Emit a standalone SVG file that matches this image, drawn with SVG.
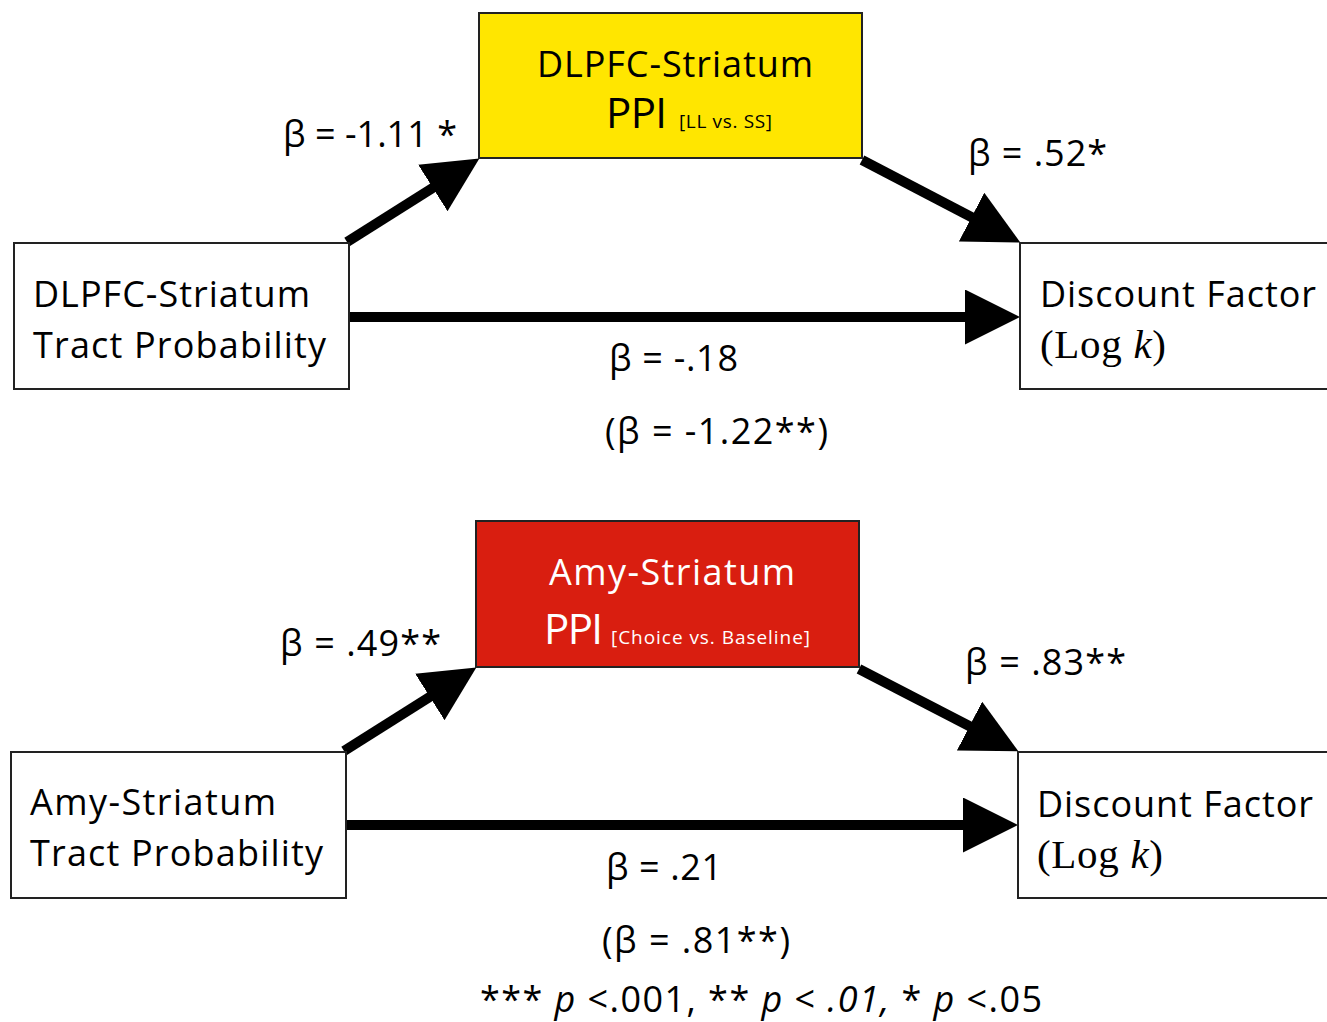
<svg xmlns="http://www.w3.org/2000/svg" width="1327" height="1022" viewBox="0 0 1327 1022">
<style>
.box{fill:#fff;stroke:#222;stroke-width:2}
.t{font-family:"Open Sans","Liberation Sans",sans-serif;font-size:36px;fill:#000}
.w{fill:#fff}
.big{font-size:42px}
.small{font-size:19px}
.serif{font-family:"Liberation Serif","DejaVu Serif",serif;font-size:41px;fill:#000}
.edge{stroke:#000;stroke-width:10;fill:none;marker-end:url(#ah)}
</style>
<defs>
<marker id="ah" markerUnits="userSpaceOnUse" markerWidth="56" markerHeight="56" refX="10" refY="27.5" orient="auto" viewBox="0 0 56 56">
<path d="M0,0 L55,27.5 L0,55 z" fill="#000"/>
</marker>
</defs>
<rect width="1327" height="1022" fill="#fff"/>
<g id="connectors">
<line class="edge" x1="347" y1="242" x2="441.3" y2="182.6"/>
<line class="edge" x1="862" y1="160" x2="980.4" y2="221.7"/>
<line class="edge" x1="349" y1="317" x2="975" y2="317"/>
<line class="edge" x1="344" y1="751" x2="438.3" y2="691.6"/>
<line class="edge" x1="859" y1="669" x2="978.4" y2="730.7"/>
<line class="edge" x1="346" y1="825" x2="973" y2="825"/>
</g>
<g id="top-mediator">
<rect x="479" y="13" width="383" height="145" fill="#FFE600" stroke="#222" stroke-width="2"/>
<text class="t" x="537" y="77" textLength="276">DLPFC-Striatum</text>
<text class="t big" x="606" y="128" textLength="61">PPI</text>
<text class="t small" x="679" y="128" textLength="93">[LL vs. SS]</text>
</g>
<g id="top-left">
<rect class="box" x="14" y="243" width="335" height="146"/>
<text class="t" x="33" y="307" textLength="277">DLPFC-Striatum</text>
<text class="t" x="33" y="358" textLength="293">Tract Probability</text>
</g>
<g id="top-right">
<rect class="box" x="1020" y="243" width="320" height="146"/>
<text class="t" x="1040" y="307" textLength="276">Discount Factor</text>
<text class="serif" x="1040" y="358" textLength="126">(Log <tspan font-style="italic">k</tspan>)</text>
</g>
<g id="bottom-mediator">
<rect x="476" y="521" width="383" height="146" fill="#D91E10" stroke="#222" stroke-width="2"/>
<text class="t w" x="549" y="585" textLength="246">Amy-Striatum</text>
<text class="t w big" x="544" y="644" textLength="59">PPI</text>
<text class="t w small" x="611" y="644" textLength="199">[Choice vs. Baseline]</text>
</g>
<g id="bottom-left">
<rect class="box" x="11" y="752" width="335" height="146"/>
<text class="t" x="30" y="815" textLength="246">Amy-Striatum</text>
<text class="t" x="30" y="866" textLength="293">Tract Probability</text>
</g>
<g id="bottom-right">
<rect class="box" x="1018" y="752" width="320" height="146"/>
<text class="t" x="1037" y="817" textLength="276">Discount Factor</text>
<text class="serif" x="1037" y="868" textLength="126">(Log <tspan font-style="italic">k</tspan>)</text>
</g>
<g id="labels">
<text class="t" x="283" y="147" textLength="174">β = -1.11 *</text>
<text class="t" x="968" y="166" textLength="139">β = .52*</text>
<text class="t" x="609" y="371" textLength="129">β = -.18</text>
<text class="t" x="605" y="444" textLength="223">(β = -1.22**)</text>
<text class="t" x="280" y="656" textLength="161">β = .49**</text>
<text class="t" x="965" y="675" textLength="161">β = .83**</text>
<text class="t" x="606" y="880" textLength="116">β = .21</text>
<text class="t" x="602" y="953" textLength="188">(β = .81**)</text>
<text class="t" x="480" y="1012" textLength="562">*** <tspan font-style="italic">p</tspan> &lt;.001, ** <tspan font-style="italic">p</tspan> &lt; <tspan font-style="italic">.01,</tspan> * <tspan font-style="italic">p</tspan> &lt;.05</text>
</g>
</svg>
